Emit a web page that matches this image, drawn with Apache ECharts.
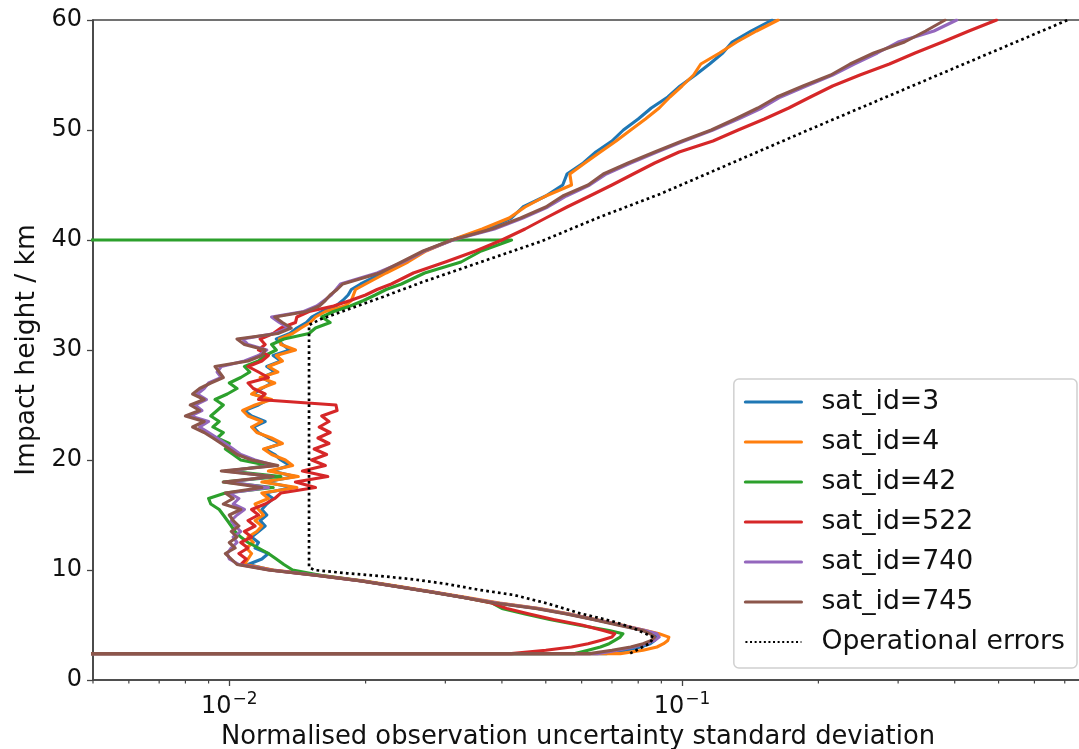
<!DOCTYPE html>
<html><head><meta charset="utf-8">
<script src="https://cdn.jsdelivr.net/npm/echarts@6/dist/echarts.min.js"></script>
<style>html,body{margin:0;padding:0;background:#fff}#c{width:1079px;height:749px}</style>
</head><body><div id="c"></div>
<script>
// Impact heights (km) shared by the sat_id profiles
const HEIGHTS = [2.4, 2.4, 2.7, 3.0, 3.3, 3.6, 3.9, 4.2, 4.5, 5.0, 5.5, 6.0, 6.5, 7.0, 7.5, 8.0, 8.5, 9.0, 9.5, 10.0,
  10.5, 11, 11.5, 12, 12.5, 13, 13.5, 14, 14.5, 15, 15.5, 16, 16.5, 17, 17.5, 18, 18.5, 19, 19.5, 20,
  20.5, 21, 21.5, 22, 22.5, 23, 23.5, 24, 24.5, 25, 25.5, 26, 26.5, 27, 27.5, 28, 28.5, 29, 29.5, 30,
  30.5, 31, 31.5, 32, 32.5, 33, 33.5, 34, 34.5, 35, 35.5, 36,
  37, 38, 39, 40, 41, 42, 43, 44, 45, 46, 47, 48, 49, 50, 51, 52, 53, 54, 55, 56, 57, 58, 59, 60];

const SAT_3 = [0.0001, 0.068, 0.075, 0.081, 0.085, 0.087, 0.088, 0.086, 0.082, 0.073, 0.064, 0.056, 0.048, 0.039, 0.033, 0.028, 0.0235, 0.0197, 0.0158, 0.0124,
  0.0110, 0.0118, 0.0122, 0.0114, 0.0116, 0.0112, 0.0116, 0.0120, 0.0117, 0.0121, 0.0118, 0.0121, 0.0125, 0.0120, 0.0138, 0.0120, 0.0140, 0.0124, 0.0136, 0.0130,
  0.0126, 0.0120, 0.0130, 0.0122, 0.0116, 0.0113, 0.0120, 0.0112, 0.0108, 0.0116, 0.0122, 0.0113, 0.0118, 0.0124, 0.0118, 0.0126, 0.0121, 0.0130, 0.0125, 0.0136,
  0.0131, 0.0127, 0.0136, 0.0141, 0.0148, 0.0152, 0.0160, 0.0172, 0.0178, 0.0183, 0.0186, 0.0195,
  0.0218, 0.0245, 0.0270, 0.031, 0.037, 0.0420, 0.0445, 0.050, 0.0545, 0.0557, 0.0605, 0.0645, 0.070, 0.0742, 0.080, 0.0855, 0.093, 0.099, 0.107, 0.115, 0.123, 0.129, 0.142, 0.158];

const SAT_4 = [0.0001, 0.073, 0.082, 0.088, 0.091, 0.093, 0.0935, 0.089, 0.083, 0.0735, 0.0645, 0.0565, 0.0485, 0.0395, 0.0335, 0.0283, 0.0238, 0.0199, 0.0160, 0.0125,
  0.0108, 0.0110, 0.0112, 0.0109, 0.0113, 0.0110, 0.0115, 0.0118, 0.0114, 0.0119, 0.0116, 0.0114, 0.0122, 0.0118, 0.0141, 0.0118, 0.0142, 0.0122, 0.0138, 0.0133,
  0.0124, 0.0119, 0.0131, 0.0124, 0.0115, 0.0112, 0.0118, 0.0110, 0.0107, 0.0114, 0.0124, 0.0112, 0.0117, 0.0126, 0.0117, 0.0128, 0.0122, 0.0131, 0.0127, 0.0140,
  0.0130, 0.0129, 0.0138, 0.0144, 0.0151, 0.0155, 0.0163, 0.0180, 0.0186, 0.0188, 0.0190, 0.0200,
  0.0222, 0.0248, 0.0272, 0.031, 0.0362, 0.0415, 0.0450, 0.0500, 0.0570, 0.0565, 0.0610, 0.0660, 0.0715, 0.0770, 0.0830, 0.0890, 0.0940, 0.1000, 0.1060, 0.1100, 0.1210, 0.1320, 0.1460, 0.1630];

const SAT_42 = [0.0001, 0.058, 0.062, 0.066, 0.069, 0.071, 0.073, 0.074, 0.069, 0.059, 0.051, 0.045, 0.040, 0.038, 0.033, 0.028, 0.0235, 0.0197, 0.0160, 0.0138,
  0.0132, 0.0127, 0.0122, 0.0116, 0.0110, 0.0106, 0.0103, 0.0101, 0.0099, 0.0097, 0.0095, 0.0091, 0.0090, 0.0098, 0.0125, 0.0097, 0.0130, 0.0100, 0.0122, 0.0106,
  0.0102, 0.0098, 0.0100, 0.0094, 0.0097, 0.0092, 0.0095, 0.0091, 0.0094, 0.0097, 0.0093, 0.0099, 0.0104, 0.0100, 0.0106, 0.0111, 0.0108, 0.0116, 0.0120, 0.0127,
  0.0124, 0.0132, 0.0150, 0.0155, 0.0167, 0.0160, 0.0170, 0.0185, 0.0198, 0.0210, 0.0222, 0.0240,
  0.0270, 0.0325, 0.0360, 0.0420, null, null, null, null, null, null, null, null, null, null, null, null, null, null, null, null, null, null, null, null];
// sat_id=42 profile is cut at 40 km (drops to ~0)
const SAT_42_CUT = [0.0001, 40];

const SAT_522 = [0.0001, 0.042, 0.050, 0.057, 0.062, 0.066, 0.070, 0.071, 0.067, 0.060, 0.052, 0.046, 0.041, 0.038, 0.033, 0.028, 0.0235, 0.0196, 0.0157, 0.0123,
  0.0106, 0.0109, 0.0105, 0.0110, 0.0106, 0.0112, 0.0108, 0.0114, 0.0110, 0.0116, 0.0112, 0.0120, 0.0126, 0.0130, 0.0155, 0.0140, 0.0165, 0.0145, 0.0163, 0.0152,
  0.0164, 0.0154, 0.0166, 0.0157, 0.0167, 0.0158, 0.0166, 0.0160, 0.0173, 0.0172, 0.0116, 0.0120, 0.0113, 0.0110, 0.0122, 0.0116, 0.0110, 0.0118, 0.0122, 0.0116,
  0.0120, 0.0117, 0.0125, 0.0130, 0.0140, 0.0141, 0.0150, 0.0170, 0.0185, 0.0200, 0.0212, 0.0228,
  0.0255, 0.0300, 0.0350, 0.0400, 0.0450, 0.0500, 0.0557, 0.0625, 0.0700, 0.0780, 0.0870, 0.0985, 0.1170, 0.1330, 0.1520, 0.1720, 0.1920, 0.2150, 0.2470, 0.2870, 0.3270, 0.3760, 0.4300, 0.4950];

const SAT_740 = [0.0001, 0.065, 0.072, 0.078, 0.083, 0.087, 0.089, 0.088, 0.083, 0.073, 0.064, 0.056, 0.048, 0.039, 0.033, 0.028, 0.0234, 0.0196, 0.0157, 0.0123,
  0.0105, 0.0100, 0.0099, 0.0101, 0.0104, 0.0102, 0.0106, 0.0103, 0.0101, 0.0104, 0.0108, 0.0102, 0.0105, 0.0100, 0.0122, 0.0100, 0.0124, 0.0098, 0.0126, 0.0114,
  0.0106, 0.0102, 0.0098, 0.0094, 0.0090, 0.0086, 0.0090, 0.0082, 0.0087, 0.0084, 0.0089, 0.0085, 0.0088, 0.0090, 0.0096, 0.0094, 0.0096, 0.0108, 0.0116, 0.0121,
  0.0110, 0.0107, 0.0126, 0.0135, 0.0129, 0.0124, 0.0146, 0.0156, 0.0162, 0.0168, 0.0172, 0.0176,
  0.0212, 0.0242, 0.0270, 0.0312, 0.0385, 0.0445, 0.0505, 0.0555, 0.0625, 0.0680, 0.0770, 0.0880, 0.1010, 0.1170, 0.1330, 0.1500, 0.1650, 0.1880, 0.2150, 0.2400, 0.2700, 0.3000, 0.3600, 0.4040];

const SAT_745 = [0.0001, 0.0625, 0.070, 0.077, 0.082, 0.0855, 0.087, 0.085, 0.082, 0.072, 0.0635, 0.0555, 0.0475, 0.0385, 0.0328, 0.0278, 0.0233, 0.0195, 0.0156, 0.0122,
  0.0104, 0.0101, 0.0098, 0.0103, 0.0100, 0.0104, 0.0101, 0.0105, 0.0102, 0.0100, 0.0106, 0.0097, 0.0102, 0.0098, 0.0118, 0.0097, 0.0125, 0.0096, 0.0128, 0.0112,
  0.0104, 0.0100, 0.0096, 0.0092, 0.0088, 0.0083, 0.0088, 0.0080, 0.0086, 0.0082, 0.0088, 0.0083, 0.0086, 0.0091, 0.0097, 0.0095, 0.0093, 0.0110, 0.0118, 0.0120,
  0.0108, 0.0104, 0.0128, 0.0137, 0.0131, 0.0126, 0.0148, 0.0158, 0.0163, 0.0167, 0.0173, 0.0178,
  0.0215, 0.0240, 0.0268, 0.0310, 0.0380, 0.0440, 0.0500, 0.0545, 0.0620, 0.0670, 0.0760, 0.0870, 0.1000, 0.1160, 0.1310, 0.1470, 0.1620, 0.1850, 0.2130, 0.2350, 0.2650, 0.3100, 0.3450, 0.3810];

// Operational errors (dotted)
const OP_HEIGHTS = [2.42, 3.33, 3.88, 4.7, 5.3, 6.06, 6.97, 7.73, 8.18, 8.73, 9.15, 9.45, 9.7, 10.0, 10.25, 32.27, 32.79, 34.85, 36.2, 39.85, 42.1, 44.18, 50.0, 60.0];
const OP_VALUES = [0.0768, 0.0848, 0.0865, 0.0782, 0.0708, 0.0595, 0.0503, 0.0425, 0.0358, 0.0302, 0.0255, 0.0216, 0.0182, 0.0154, 0.0150, 0.0150, 0.0159, 0.0219, 0.0268, 0.0486, 0.0659, 0.0894, 0.190, 0.711];

const SERIES_NAMES = ['sat_id=3', 'sat_id=4', 'sat_id=42', 'sat_id=522', 'sat_id=740', 'sat_id=745'];
const SERIES_VALUES = [SAT_3, SAT_4, SAT_42, SAT_522, SAT_740, SAT_745];
const COLORS = ['#1f77b4', '#ff7f0e', '#2ca02c', '#d62728', '#9467bd', '#8c564b'];
const OP_NAME = 'Operational errors';

const Y_TICKS = [0, 10, 20, 30, 40, 50, 60];
const X_MINOR_TICKS = [0.005, 0.006, 0.007, 0.008, 0.009, 0.02, 0.03, 0.04, 0.05, 0.06, 0.07, 0.08, 0.09, 0.2, 0.3, 0.4, 0.5, 0.6, 0.7];
const X_MIN = 0.005, X_MAX = 0.8;

const FONT = 'DejaVu Sans';
const chart = echarts.init(document.getElementById('c'), null, {renderer: 'canvas'});

function pairs(vals, hs) {
  const out = [];
  for (let i = 0; i < vals.length; i++) out.push(vals[i] == null ? [null, hs[i]] : [vals[i], hs[i]]);
  return out;
}

const LW = 3.1;
const series = SERIES_NAMES.map((name, i) => {
  let data = pairs(SERIES_VALUES[i], HEIGHTS);
  if (name === 'sat_id=42') {
    data = data.filter(d => d[0] != null);
    data.push(SAT_42_CUT);
  }
  return {
    name, type: 'line', data, symbol: 'none', showSymbol: false,
    lineStyle: {color: COLORS[i], width: LW, join: 'round', cap: 'round'},
    itemStyle: {color: COLORS[i]},
    clip: true, animation: false
  };
});
series.push({
  name: OP_NAME, type: 'line', symbol: 'none', showSymbol: false,
  data: OP_VALUES.map((v, i) => [v, OP_HEIGHTS[i]]),
  lineStyle: {color: '#000', width: 2.7, type: [2.7, 3.2], cap: 'butt'},
  itemStyle: {color: '#000'}, clip: true, animation: false
});
series.push({
  type: 'custom', silent: true, clip: false, animation: false, z: 10,
  data: X_MINOR_TICKS.map(v => [v, 0]),
  renderItem: (params, api) => {
    const p = api.coord([api.value(0), 0]);
    return {type: 'line', shape: {x1: p[0], y1: p[1], x2: p[0], y2: p[1] + 3.5},
      style: {stroke: '#444', lineWidth: 1.2}};
  }
});

const legendData = SERIES_NAMES.map((n, i) => ({name: n, lineStyle: {width: 3.2, color: COLORS[i]}}))
  .concat([{name: OP_NAME, lineStyle: {width: 2, color: '#000', type: [2, 2.6]}}]);

chart.setOption({
  animation: false,
  backgroundColor: '#fff',
  textStyle: {fontFamily: FONT},
  grid: {left: 93, top: 20, right: -12, bottom: 69, show: true, borderColor: '#444', borderWidth: 1.6,
    containLabel: false, outerBoundsMode: 'none'},
  xAxis: {
    type: 'log', logBase: 10, min: X_MIN, max: X_MAX,
    name: 'Normalised observation uncertainty standard deviation',
    nameLocation: 'middle', nameGap: 40,
    nameTextStyle: {fontFamily: FONT, fontSize: 25.8, color: '#111', padding: [0, 28, 0, 0]},
    axisLine: {show: true, onZero: false, lineStyle: {color: '#444', width: 1.6}},
    axisTick: {show: true, length: 6, lineStyle: {color: '#444', width: 1.3}},
    splitLine: {show: false},
    axisLabel: {
      margin: 11, showMinLabel: false, showMaxLabel: false, color: '#111',
      formatter: v => {
        const e = Math.log10(v);
        if (Math.abs(e - Math.round(e)) > 1e-6) return '';
        return '{b|10}{s|\u2212' + Math.abs(Math.round(e)) + '}';
      },
      rich: {
        b: {fontFamily: FONT, fontSize: 24, color: '#111', verticalAlign: 'bottom', lineHeight: 28},
        s: {fontFamily: FONT, fontSize: 17, color: '#111', verticalAlign: 'bottom', padding: [0, 0, 11, 1], lineHeight: 20}
      }
    }
  },
  yAxis: {
    type: 'value', min: 0, max: 60, interval: 10,
    name: 'Impact height / km', nameLocation: 'middle', nameGap: 39,
    nameTextStyle: {fontFamily: FONT, fontSize: 26.5, color: '#111'},
    axisLine: {show: true, onZero: false, lineStyle: {color: '#444', width: 1.6}},
    axisTick: {show: true, length: 6, lineStyle: {color: '#444', width: 1.3}},
    splitLine: {show: false},
    axisLabel: {margin: 11, fontFamily: FONT, fontSize: 24, color: '#111',
      formatter: v => (Y_TICKS.indexOf(v) >= 0 ? String(v) : '')}
  },
  legend: {
    data: legendData,
    orient: 'vertical', right: 2, top: 379,
    padding: [9, 12, 12, 10],
    itemWidth: 56, itemHeight: 14, itemGap: 12,
    itemStyle: {opacity: 0},
    backgroundColor: 'rgba(255,255,255,0.85)', borderColor: '#d0d0d0', borderWidth: 1.5, borderRadius: 5,
    textStyle: {fontFamily: FONT, fontSize: 26.7, color: '#111', lineHeight: 28, padding: [0, 0, 0, 15]},
    selectedMode: false
  },
  series
});
</script>
</body></html>
